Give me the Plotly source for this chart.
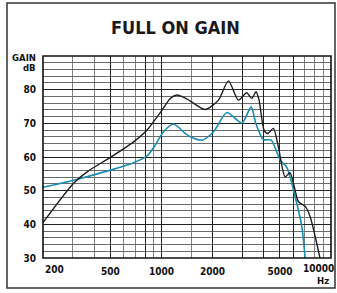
import math
import plotly.graph_objects as go

# ---- data ----
black_freq = [200, 303, 364, 500, 685, 822, 990, 1127, 1233, 1380, 1480, 1811, 2168, 2483,
              2844, 3184, 3411, 3613, 3764, 4029, 4236, 4573, 4893, 5361, 5737, 6428,
              7035, 7525, 8617]
black_gain = [40.5, 52.2, 55.6, 59.9, 64.5, 68.0, 73.4, 77.4, 78.4, 77.5, 76.6, 74.1, 76.9, 82.6,
              76.9, 79.1, 77.4, 79.4, 76.9, 68.0, 67.0, 68.5, 63.0, 54.1, 55.3, 46.7,
              45.4, 42.3, 29.9]

teal_freq = [200, 303, 500, 685, 822, 918, 1028, 1178, 1380, 1480, 1733, 2028, 2431, 2981,
             3379, 3600, 3989, 4437, 5010, 5487, 6143, 6728, 7035]
teal_gain = [51.0, 53.1, 56.1, 58.3, 60.3, 63.5, 67.5, 69.8, 67.0, 66.0, 65.0, 67.5, 73.2, 70.1,
             74.9, 70.0, 65.2, 65.0, 59.1, 56.9, 48.2, 39.3, 29.9]

x_label_vals = [500, 1000, 2000, 5000]
x_label_text = ["500", "1000", "2000", "5000"]
x_dark_grid = [500, 800, 1000, 2000, 3000, 4000, 5000, 6000]
x_gray_grid = [300, 400, 600, 700, 900, 1500, 7000, 8000, 9000]
y_tick_vals = [30, 40, 50, 60, 70, 80]
y_tick_text = ["30", "40", "50", "60", "70", "80"]
y_gray_grid = [32, 34, 36, 38, 42, 44, 46, 48, 52, 54, 56, 58, 62, 64, 66, 68,
               72, 74, 76, 78, 82, 84, 86, 88]

FONT = "Liberation Sans Narrow, DejaVu Sans Condensed, Arial Narrow, sans-serif"

W, H = 337, 293
ML, MR, MT, MB = 43, 6, 56, 35
PW, PH = W - ML - MR, H - MT - MB

def px(x):
    return (x - ML) / PW

def py(y):
    return (H - MB - y) / PH

x_ticktext = [x_label_text[x_label_vals.index(v)] if v in x_label_vals else "" for v in x_dark_grid]

fig = go.Figure()
fig.add_trace(go.Scatter(x=teal_freq, y=teal_gain, mode="lines",
                         line=dict(color="#1a8db3", width=1.6, shape="spline", smoothing=0.7),
                         hoverinfo="skip"))
fig.add_trace(go.Scatter(x=black_freq, y=black_gain, mode="lines",
                         line=dict(color="#1e1e1e", width=1.4, shape="spline", smoothing=0.7),
                         hoverinfo="skip"))

fig.update_xaxes(type="log", range=[math.log10(200), 4],
                 tickmode="array", tickvals=x_dark_grid, ticktext=x_ticktext,
                 showgrid=True, gridcolor="#222222", gridwidth=1.2,
                 minor=dict(tickmode="array", tickvals=x_gray_grid, showgrid=True,
                            gridcolor="#808080", gridwidth=1.2, ticks=""),
                 ticks="", ticklabelstandoff=6,
                 tickfont=dict(family=FONT, size=10, color="#111111", weight="bold"),
                 zeroline=False, showline=False, fixedrange=True, automargin=False)
fig.update_yaxes(range=[30, 90], tickmode="array", tickvals=y_tick_vals, ticktext=y_tick_text,
                 showgrid=True, gridcolor="#222222", gridwidth=1.2,
                 minor=dict(tickmode="array", tickvals=y_gray_grid, showgrid=True,
                            gridcolor="#6a6a6a", gridwidth=1.2, ticks=""),
                 ticks="", ticklabelstandoff=6,
                 tickfont=dict(family=FONT, size=10, color="#111111", weight="bold"),
                 zeroline=False, showline=False, fixedrange=True, automargin=False)

shapes = [
    dict(type="rect", xref="paper", yref="paper", x0=0, x1=1, y0=0, y1=1,
         line=dict(color="#111111", width=1.6), layer="above"),
    dict(type="rect", xref="paper", yref="paper", x0=px(7), x1=px(335), y0=py(288), y1=py(3),
         line=dict(color="#333333", width=1.5), layer="above"),
]

annotations = [
    dict(text="<b>FULL ON GAIN</b>", xref="paper", yref="paper", x=px(175), y=py(27),
         xanchor="center", yanchor="middle", showarrow=False,
         font=dict(family=FONT, size=18, color="#1a1a1a")),
    dict(text="<b>GAIN</b>", xref="paper", yref="paper", x=px(38), y=py(57.5),
         xanchor="right", yanchor="middle", showarrow=False,
         font=dict(family=FONT, size=9.5, color="#111111")),
    dict(text="<b>dB</b>", xref="paper", yref="paper", x=px(38), y=py(67),
         xanchor="right", yanchor="middle", showarrow=False,
         font=dict(family=FONT, size=9.5, color="#111111")),
    dict(text="<b>200</b>", xref="x", yref="paper", x=math.log10(200), y=py(269),
         xanchor="left", yanchor="middle", showarrow=False,
         font=dict(family=FONT, size=10, color="#111111")),
    dict(text="<b>10000</b>", xref="paper", yref="paper", x=px(336), y=py(268.5),
         xanchor="right", yanchor="middle", showarrow=False,
         font=dict(family=FONT, size=10, color="#111111")),
    dict(text="<b>Hz</b>", xref="paper", yref="paper", x=1, y=py(280),
         xanchor="right", yanchor="middle", showarrow=False,
         font=dict(family=FONT, size=9.5, color="#111111")),
]

fig.update_layout(width=W, height=H, margin=dict(l=ML, r=MR, t=MT, b=MB, pad=0, autoexpand=False),
                  paper_bgcolor="white", plot_bgcolor="white", showlegend=False,
                  shapes=shapes, annotations=annotations,
                  font=dict(family=FONT, color="#111111"))

fig.write_html("out.html", config={"displayModeBar": False},
               post_script="document.body.style.margin='0';document.body.style.overflow='hidden';")
